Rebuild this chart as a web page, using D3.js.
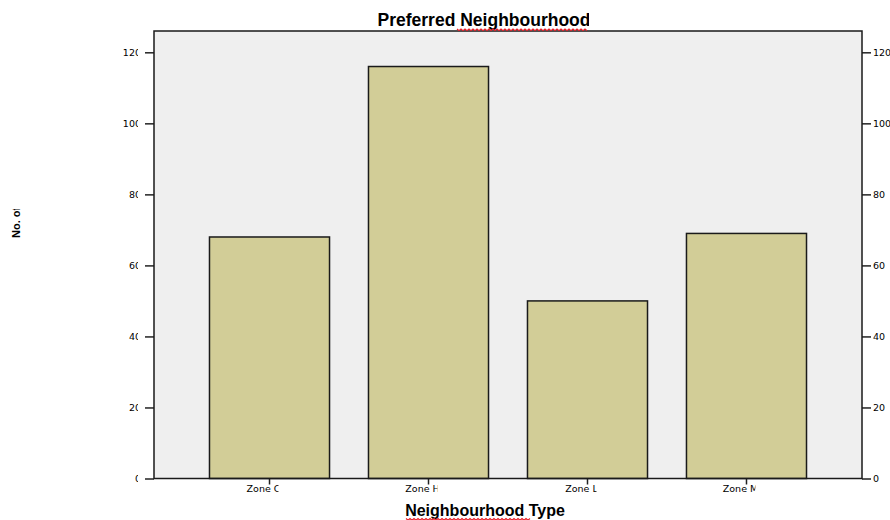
<!DOCTYPE html>
<html>
<head>
<meta charset="utf-8">
<script src="https://cdn.jsdelivr.net/npm/d3@7"></script>
<style>
  body { margin: 0; background: #fff; }
  svg { display: block; }
  .tick text { font-family: "DejaVu Sans", sans-serif; font-size: 9.5px; fill: #000; }
  .tick line { stroke: #222; stroke-width: 1.5; }
  .domain { display: none; }
</style>
</head>
<body>
<svg id="chart" width="890" height="520"></svg>
<script>
var zones = ["Zone C", "Zone H", "Zone L", "Zone M"];
var counts = [68, 116, 50, 69];
var yTicks = [0, 20, 40, 60, 80, 100, 120];

var svg = d3.select("#chart"),
    margin = {top: 31, right: 28, bottom: 41.5, left: 154},
    width = 890 - margin.left - margin.right,
    height = 520 - margin.top - margin.bottom;

var x = d3.scaleBand()
  .domain(zones)
  .range([0, width])
  .paddingInner(0.245)
  .paddingOuter(0.349);

var y = d3.scaleLinear()
  .domain([0, 126])
  .range([height, 0]);

var defs = svg.append("defs");
// labels are cut off at their right edge in the original
defs.append("clipPath").attr("id", "clipLeft")
  .append("rect").attr("x", -60).attr("y", -20).attr("width", 44).attr("height", 40);
defs.append("clipPath").attr("id", "clipX")
  .append("rect").attr("x", -40).attr("y", 0).attr("width", 49).attr("height", 30);
defs.append("clipPath").attr("id", "clipTitle")
  .append("rect").attr("x", 0).attr("y", 0).attr("width", 589).attr("height", 31);
defs.append("clipPath").attr("id", "clipYTitle")
  .append("rect").attr("x", 0).attr("y", 209).attr("width", 40).attr("height", 40);

var g = svg.append("g").attr("transform", "translate(" + margin.left + "," + margin.top + ")");

// panel
g.append("rect")
  .attr("width", width)
  .attr("height", height)
  .attr("fill", "#efefef");

// bars
g.selectAll(".bar")
  .data(counts)
  .enter().append("rect")
  .attr("class", "bar")
  .attr("x", function(d, i) { return x(zones[i]); })
  .attr("y", function(d) { return y(d); })
  .attr("width", x.bandwidth())
  .attr("height", function(d) { return height - y(d); })
  .attr("fill", "#d2cd97")
  .attr("stroke", "#1a1a1a")
  .attr("stroke-width", 1.5);

// left axis
var yLeft = g.append("g")
  .call(d3.axisLeft(y).tickValues(yTicks).tickSize(9).tickPadding(4).tickFormat(d3.format("d")));
yLeft.selectAll(".tick text").attr("clip-path", "url(#clipLeft)");

// right axis
g.append("g")
  .attr("transform", "translate(" + width + ",0)")
  .call(d3.axisRight(y).tickValues(yTicks).tickSize(9).tickPadding(2).tickFormat(d3.format("d")));

// bottom axis
var xAxis = g.append("g")
  .attr("transform", "translate(0," + height + ")")
  .call(d3.axisBottom(x).tickSize(6).tickPadding(1));
xAxis.selectAll(".tick text")
  .attr("dx", "-6")
  .attr("clip-path", "url(#clipX)");

// frame
g.append("rect")
  .attr("width", width)
  .attr("height", height)
  .attr("fill", "none")
  .attr("stroke", "#1a1a1a")
  .attr("stroke-width", 1.5);

// title
svg.append("text")
  .attr("clip-path", "url(#clipTitle)")
  .attr("x", 484)
  .attr("y", 26)
  .attr("text-anchor", "middle")
  .style("font-family", "Liberation Sans, Arial, sans-serif")
  .style("font-weight", "bold")
  .style("font-size", "17.5px")
  .text("Preferred Neighbourhood");

// x title
svg.append("text")
  .attr("x", 485)
  .attr("y", 516)
  .attr("text-anchor", "middle")
  .style("font-family", "Liberation Sans, Arial, sans-serif")
  .style("font-weight", "bold")
  .style("font-size", "16px")
  .text("Neighbourhood Type");

// y title
svg.append("g")
  .attr("clip-path", "url(#clipYTitle)")
  .append("text")
  .attr("transform", "translate(20,238) rotate(-90)")
  .style("font-family", "Liberation Sans, Arial, sans-serif")
  .style("font-weight", "bold")
  .style("font-size", "11px")
  .text("No. of Respondents");

// spell-check squiggles
function squiggle(x0, x1, yy) {
  var pts = [];
  for (var xx = x0, k = 0; xx <= x1; xx += 2, k++) pts.push([xx, yy + (k % 2 ? 1.6 : 0)]);
  svg.append("path")
    .attr("d", d3.line()(pts))
    .attr("fill", "none")
    .attr("stroke", "#e8202a")
    .attr("stroke-width", 1.2);
}
squiggle(457, 588, 29);
squiggle(406, 530, 518.5);
</script>
</body>
</html>
